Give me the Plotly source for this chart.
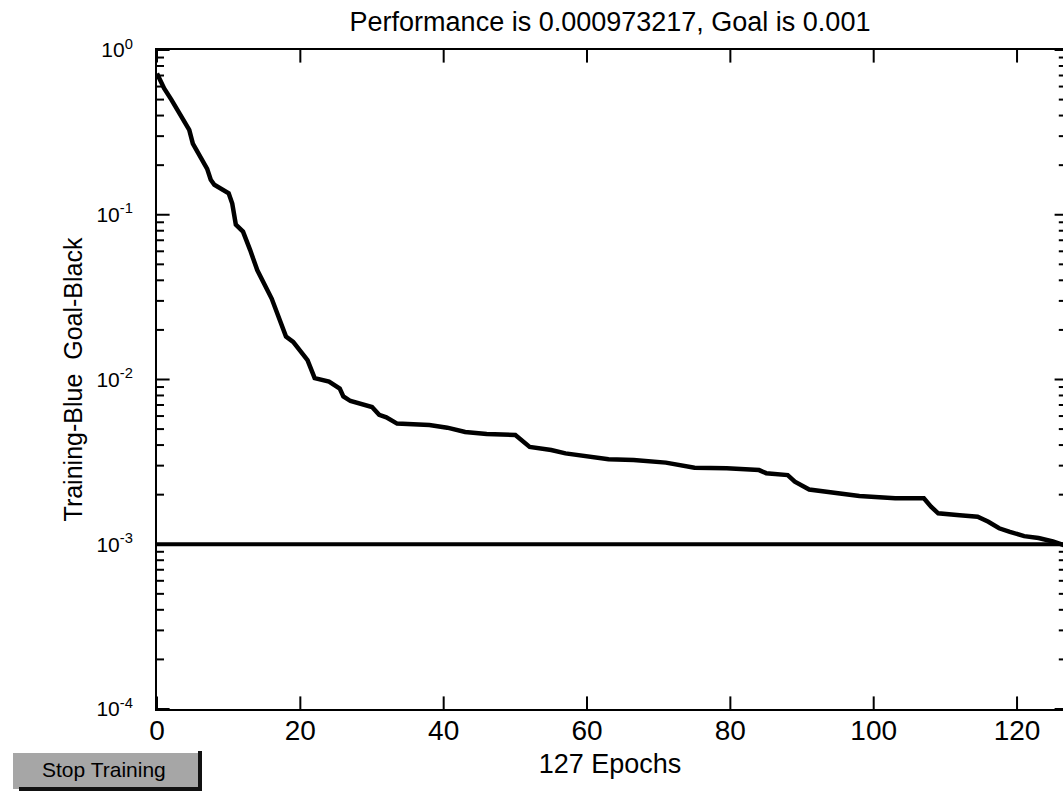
import plotly.graph_objects as go

# ---- data ----
epochs = [0, 1, 2, 3, 4, 4.5, 5, 6, 7, 7.5, 8, 10, 10.5, 11, 12, 13, 14, 16, 17, 18, 19,
          21, 22, 24, 25.5, 26, 27, 30, 31, 32, 33.5, 38, 40.5, 43, 46, 50, 52, 55, 57,
          60, 63, 66.5, 71, 75, 79.5, 84, 85, 88, 89, 91, 94.5, 98, 103, 107, 108, 109,
          112, 114.5, 116, 117.5, 119, 121, 123, 125, 127]
performance = [0.72, 0.585, 0.50, 0.42, 0.36, 0.327, 0.27, 0.225, 0.19, 0.163, 0.152,
               0.135, 0.117, 0.087, 0.079, 0.061, 0.046, 0.031, 0.024, 0.0182, 0.0169,
               0.0131, 0.0102, 0.0097, 0.0088, 0.0079, 0.0074, 0.0068, 0.0061, 0.0059,
               0.0054, 0.0053, 0.0051, 0.0048, 0.00467, 0.0046, 0.0039, 0.00373, 0.00356,
               0.00343, 0.00328, 0.00325, 0.00313, 0.00291, 0.00289, 0.00282, 0.0027,
               0.00263, 0.0024, 0.00215, 0.00205, 0.00196, 0.0019, 0.0019, 0.00169,
               0.00154, 0.0015, 0.00147, 0.00137, 0.00125, 0.00119, 0.00112, 0.00109,
               0.00104, 0.000973217]
goal = 0.001
goal_x = [0, 127]

x_ticks = [0, 20, 40, 60, 80, 100, 120]
y_ticks = [1, 0.1, 0.01, 0.001, 0.0001]
y_ticktext = ["10<sup>0</sup>", "10<sup>-1</sup>", "10<sup>-2</sup>",
              "10<sup>-3</sup>", "10<sup>-4</sup>"]
y_minor = [k * 10.0 ** d for d in range(-4, 0) for k in range(2, 10)]

title_text = "Performance is 0.000973217, Goal is 0.001"
x_label = "127 Epochs"
y_label = "Training-Blue  Goal-Black"
button_text = "Stop Training"

# ---- layout geometry (pixels) ----
W, H = 1063, 793
L, R, T, B = 157, 0, 50, 84
pw, ph = W - L - R, H - T - B
x_max = pw / 7.167  # epochs visible up to the window edge
y_lo, y_hi = 1e-4, 1.0  # y axis range ends (log axis)


def px_to_paper_x(px):
    return (px - L) / pw


def px_to_paper_y(py):
    return (H - B - py) / ph


FONT = "Liberation Sans, Arial, Helvetica, sans-serif"

fig = go.Figure()
fig.add_trace(go.Scatter(x=goal_x, y=[goal, goal], mode="lines",
                         line=dict(color="black", width=4), showlegend=False,
                         hoverinfo="skip"))
fig.add_trace(go.Scatter(x=epochs, y=performance, mode="lines",
                         line=dict(color="black", width=4.5), showlegend=False))


def tick_marks(xs, ys, symbol, size):
    # inward tick marks: markers centred on the axis, clipped to the plot area
    fig.add_trace(go.Scatter(x=xs, y=ys, mode="markers", showlegend=False,
                             hoverinfo="skip", cliponaxis=True,
                             marker=dict(symbol=symbol, size=size, color="black",
                                         line=dict(color="black", width=2))))


tick_marks(x_ticks, [y_lo] * len(x_ticks), "line-ns", 18)       # bottom
tick_marks(x_ticks, [y_hi] * len(x_ticks), "line-ns", 18)       # top
tick_marks([0] * len(y_ticks), y_ticks, "line-ew", 18)          # left major
tick_marks([0] * len(y_minor), y_minor, "line-ew", 10)          # left minor
tick_marks([x_max] * len(y_ticks), y_ticks, "line-ew", 12)      # right major
tick_marks([x_max] * len(y_minor), y_minor, "line-ew", 6)       # right minor

fig.update_layout(
    template="none",
    width=W, height=H,
    margin=dict(l=L, r=R, t=T, b=B, autoexpand=False),
    paper_bgcolor="white", plot_bgcolor="white",
    font=dict(family=FONT, color="black"),
    showlegend=False,
    title=dict(text=title_text, x=0.5, xref="paper", xanchor="center",
               y=1 - 22 / H, yref="container", yanchor="middle",
               font=dict(size=27, family=FONT, color="black")),
    xaxis=dict(range=[0, x_max], tickmode="array", tickvals=x_ticks, ticks="",
               showline=True, linewidth=2, linecolor="black", mirror=True,
               showgrid=False, zeroline=False, ticklabelstandoff=-5,
               automargin=False,
               tickfont=dict(size=28, family=FONT, color="black"),
               title=dict(text=x_label, font=dict(size=27, family=FONT, color="black"),
                          standoff=10)),
    yaxis=dict(type="log", range=[-4, 0], tickmode="array", tickvals=y_ticks,
               ticktext=y_ticktext, ticks="", showline=True, linewidth=2,
               linecolor="black", mirror=False, showgrid=False, zeroline=False,
               ticklabelstandoff=18, automargin=False,
               tickfont=dict(size=21, family=FONT, color="black"),
               title=dict(text=y_label, font=dict(size=25, family=FONT, color="black"),
                          standoff=7)),
)

# "Stop Training" button
bx0, bx1, by0, by1 = 13, 200, 753, 789
fig.add_shape(type="rect", xref="paper", yref="paper",
              x0=px_to_paper_x(bx0), x1=px_to_paper_x(bx1),
              y0=px_to_paper_y(by1), y1=px_to_paper_y(by0),
              fillcolor="#a6a6a6", line=dict(width=0), layer="above")
fig.add_shape(type="line", xref="paper", yref="paper",
              x0=px_to_paper_x(bx1), x1=px_to_paper_x(bx1),
              y0=px_to_paper_y(by1 + 2), y1=px_to_paper_y(by0 - 2),
              line=dict(color="#111111", width=4))
fig.add_shape(type="line", xref="paper", yref="paper",
              x0=px_to_paper_x(bx0 + 6), x1=px_to_paper_x(bx1 + 2),
              y0=px_to_paper_y(by1), y1=px_to_paper_y(by1),
              line=dict(color="#111111", width=4))
fig.add_annotation(text=button_text, xref="paper", yref="paper",
                   x=px_to_paper_x(104), y=px_to_paper_y(770),
                   xanchor="center", yanchor="middle", showarrow=False,
                   font=dict(size=21, family=FONT, color="black"))

fig.write_html("out.html")
